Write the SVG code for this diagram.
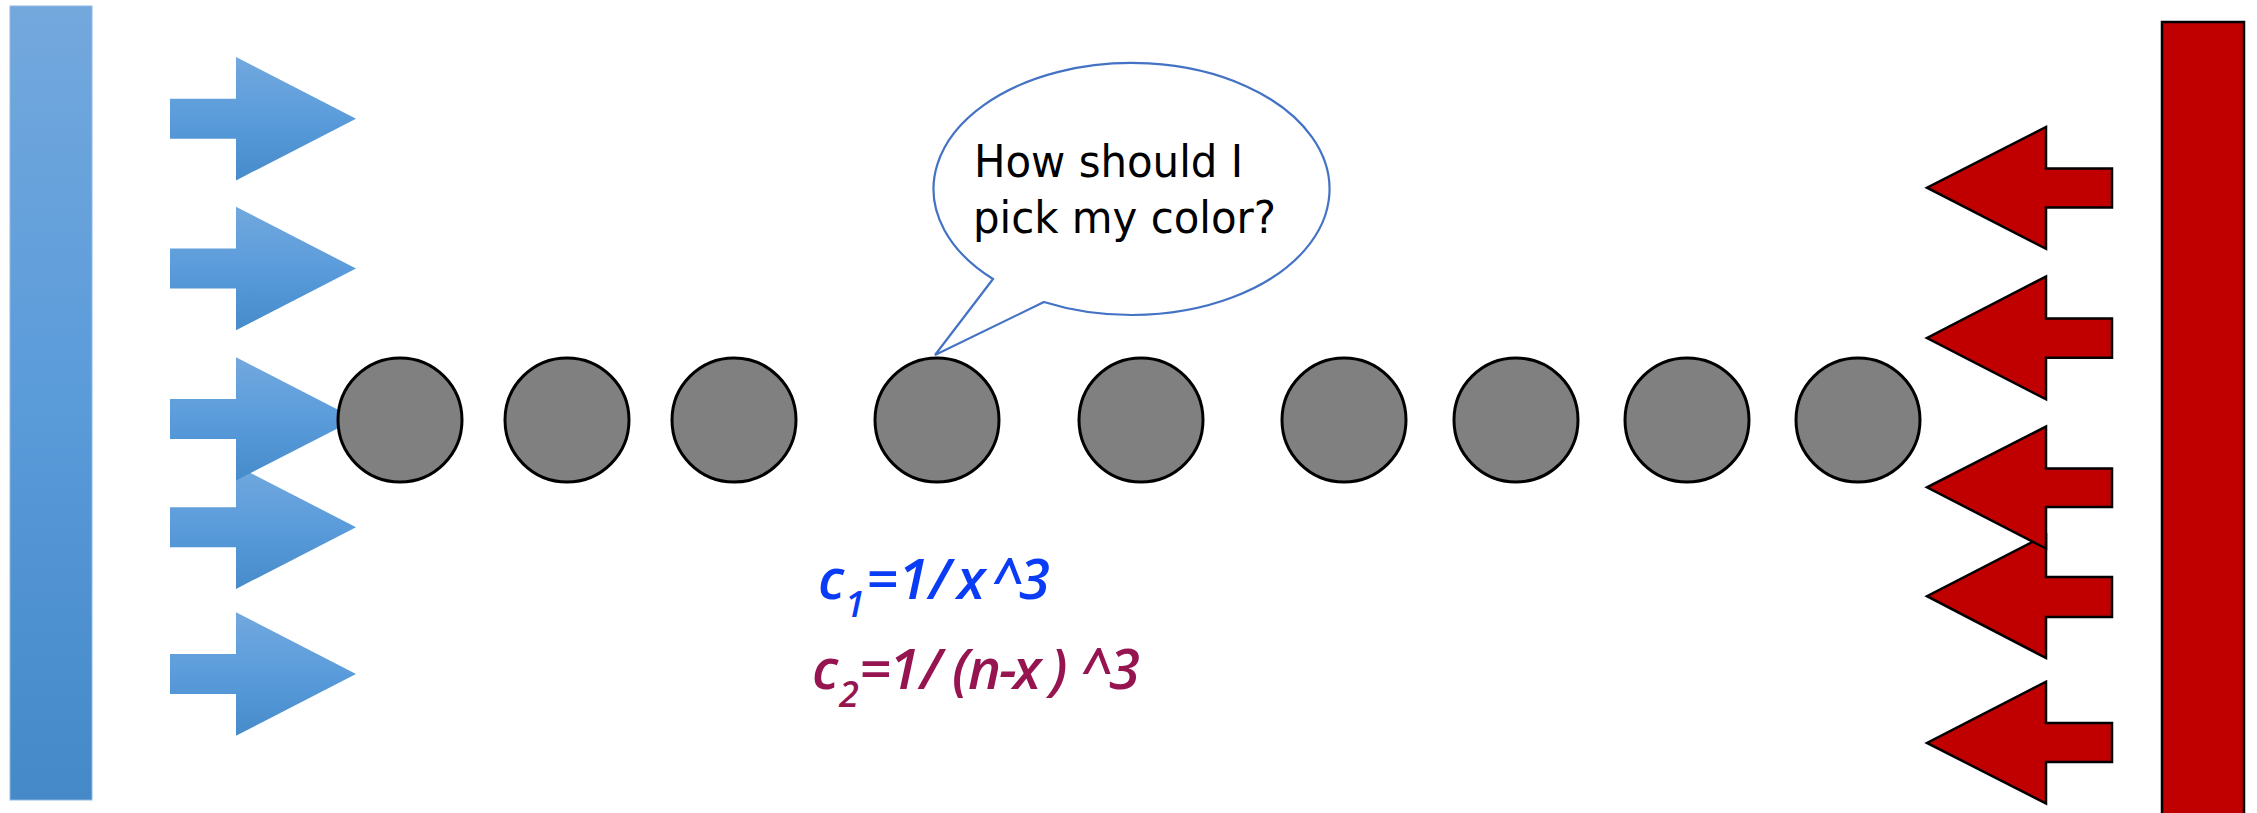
<svg xmlns="http://www.w3.org/2000/svg" width="2257" height="813" viewBox="0 0 2257 813" shape-rendering="geometricPrecision">
<style>
.ball{fill:#808080;stroke:#000;stroke-width:3}
.rarr{fill:#c00000;stroke:#000;stroke-width:2.5}
.barr{fill:url(#bg)}
.bubtxt{font-family:"DejaVu Sans",sans-serif;font-size:45px;fill:#000}
.f1{font-family:"Open Sans",sans-serif;font-style:italic;font-weight:600;font-size:56px;fill:#0a3cf5}
.f2{font-family:"Open Sans",sans-serif;font-style:italic;font-weight:600;font-size:56px;fill:#961450}
.sub{font-size:36px}
</style>
<defs>
<linearGradient id="bg" x1="0" y1="0" x2="0" y2="1">
<stop offset="0" stop-color="#72a8de"/>
<stop offset="0.5" stop-color="#5a9cdb"/>
<stop offset="1" stop-color="#468bca"/>
</linearGradient>
<linearGradient id="barg" x1="0" y1="0" x2="0" y2="1">
<stop offset="0" stop-color="#73a8dd"/>
<stop offset="0.5" stop-color="#5a9bda"/>
<stop offset="1" stop-color="#4589c8"/>
</linearGradient>
</defs>

<g id="blue-bar"><rect x="10" y="6" width="82" height="794" fill="url(#barg)" stroke="#8fb8e3" stroke-width="1"/></g>

<g id="blue-arrows">
<path class="barr" d="M170,98.7 H236 V57 L356,118.7 L236,180.4 V138.7 H170 Z"/>
<path class="barr" d="M170,248.5 H236 V206.8 L356,268.5 L236,330.2 V288.5 H170 Z"/>
<path class="barr" d="M170,507.2 H236 V465.5 L356,527.2 L236,588.9 V547.2 H170 Z"/>
<path class="barr" d="M170,654 H236 V612.3 L356,674 L236,735.7 V694 H170 Z"/>
<path class="barr" d="M170,398.9 H236 V357.2 L356,418.9 L236,480.6 V438.9 H170 Z"/>
</g>

<g id="red-bar"><rect x="2162" y="22" width="82" height="800" fill="#c00000" stroke="#000" stroke-width="2.5"/></g>

<g id="red-arrows">
<path class="rarr" d="M2112,168.5 H2046 V127 L1927,187.7 L2046,248.8 V207.4 H2112 Z"/>
<path class="rarr" d="M2112,318.5 H2046 V276.5 L1927,338 L2046,399.3 V357.7 H2112 Z"/>
<path class="rarr" d="M2112,577 H2046 V535 L1927,596.2 L2046,658 V617 H2112 Z"/>
<path class="rarr" d="M2112,723 H2046 V681.7 L1927,742.9 L2046,803.5 V762 H2112 Z"/>
<path class="rarr" d="M2112,468.6 H2046 V426.6 L1927,487.3 L2046,548.5 V507 H2112 Z"/>
</g>

<g id="balls">
<circle id="b1" class="ball" cx="400" cy="420" r="62"/>
<circle id="b2" class="ball" cx="567" cy="420" r="62"/>
<circle id="b3" class="ball" cx="734" cy="420" r="62"/>
<circle id="b4" class="ball" cx="937" cy="420" r="62"/>
<circle id="b5" class="ball" cx="1141" cy="420" r="62"/>
<circle id="b6" class="ball" cx="1344" cy="420" r="62"/>
<circle id="b7" class="ball" cx="1516" cy="420" r="62"/>
<circle id="b8" class="ball" cx="1687" cy="420" r="62"/>
<circle id="b9" class="ball" cx="1858" cy="420" r="62"/>
</g>

<g id="bubble">
<path d="M993,279 L935,355 L1044,302 A198,126 0 1 0 993,279 Z" fill="#fff" stroke="#4472c4" stroke-width="2.2"/>
<text class="bubtxt" x="974" y="177" textLength="269" lengthAdjust="spacingAndGlyphs">How should I</text>
<text class="bubtxt" x="973" y="233" textLength="303" lengthAdjust="spacingAndGlyphs">pick my color?</text>
</g>

<g id="formula1">
<text class="f1" y="599"><tspan x="818">c</tspan><tspan class="sub" x="845" y="617">1</tspan><tspan x="866" y="599">=</tspan><tspan x="898">1</tspan><tspan x="929">/</tspan><tspan x="957">x</tspan><tspan x="992">^</tspan><tspan x="1019">3</tspan></text>
</g>
<g id="formula2">
<text class="f2" y="689"><tspan x="812">c</tspan><tspan class="sub" x="839" y="707">2</tspan><tspan x="859" y="689">=</tspan><tspan x="889">1</tspan><tspan x="920">/</tspan><tspan x="952">(</tspan><tspan x="968">n</tspan><tspan x="999">-</tspan><tspan x="1013">x</tspan><tspan x="1050">)</tspan><tspan x="1081">^</tspan><tspan x="1109">3</tspan></text>
</g>
</svg>
